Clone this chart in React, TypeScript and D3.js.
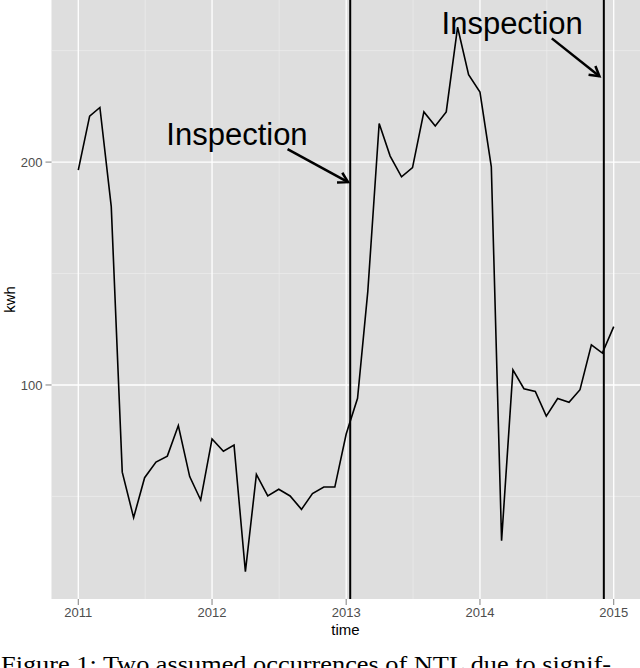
import React from "react";
import * as d3 from "d3";

const startYear = 2011;
const startMonth = 0;
const kwhValues = [
  196.4, 220.6, 224.5, 180, 60.9, 40.5, 58.4, 65.4, 68.1, 81.8, 58.9, 48.4,
  75.8, 70.3, 73, 16.2, 59.9, 50.2, 53.2, 50.2, 44.2, 51.3, 54.2, 54.2,
  78, 94, 142, 217.3, 202.7, 193.4, 197.5, 222.5, 216.2, 222.5, 260.5, 239.2,
  231.4, 197.9, 30.1, 106.8, 98.3, 97.1, 86, 93.9, 92.2, 97.9, 118, 114.3, 126.2,
];
const yMajorTicks = [100, 200];
const yMinorTicks = [50, 150, 250];
const xTickYears = [2011, 2012, 2013, 2014, 2015];
const inspectionDates = [new Date(2013, 0, 12), new Date(2014, 11, 5)];
const annotationLabels = ["Inspection", "Inspection"];
const captionText = "Figure 1: Two assumed occurrences of NTL due to signif-";

const W = 640;
const H = 668;
const panel = { left: 51.5, right: 640.5, top: 0, bottom: 599 };

export default function App() {
  const data = kwhValues.map((v, i) => ({
    date: new Date(startYear, startMonth + i, 1),
    value: v,
  }));
  const [d0, d1] = d3.extent(data, (d) => d.date.getTime()) as [number, number];
  const xSpan = d1 - d0;
  const x = d3
    .scaleTime()
    .domain([new Date(d0 - 0.05 * xSpan), new Date(d1 + 0.05 * xSpan)])
    .range([panel.left, panel.right]);
  const [vMin, vMax] = d3.extent(kwhValues) as [number, number];
  const vSpan = vMax - vMin;
  const y = d3
    .scaleLinear()
    .domain([vMin - 0.05 * vSpan, vMax + 0.05 * vSpan])
    .range([panel.bottom, panel.top]);

  const line = d3
    .line<{ date: Date; value: number }>()
    .x((d) => x(d.date))
    .y((d) => y(d.value));

  const xMajor = xTickYears.map((yr) => new Date(yr, 0, 1));
  const xMinor = xTickYears.slice(0, -1).map(
    (yr) => new Date((new Date(yr, 0, 1).getTime() + new Date(yr + 1, 0, 1).getTime()) / 2)
  );

  // annotation placement (data coordinates)
  const annotations = [
    { label: annotationLabels[0], tx: new Date(2012, 2, 9), tv: 207.5, from: [new Date(2012, 6, 25), 205.8], to: [new Date(2013, 0, 6), 191] },
    { label: annotationLabels[1], tx: new Date(2014, 2, 30), tv: 257.5, from: [new Date(2014, 6, 16), 255.5], to: [new Date(2014, 10, 23), 238.5] },
  ];

  const arrowHead = (x1: number, y1: number, x2: number, y2: number) => {
    const ang = Math.atan2(y2 - y1, x2 - x1);
    const len = 11;
    const spread = Math.PI / 6;
    const a1 = ang + Math.PI - spread;
    const a2 = ang + Math.PI + spread;
    return `M${x2 + len * Math.cos(a1)},${y2 + len * Math.sin(a1)}L${x2},${y2}L${x2 + len * Math.cos(a2)},${y2 + len * Math.sin(a2)}`;
  };

  return (
    <svg
      width={W}
      height={H}
      style={{ position: "absolute", left: 0, top: 0, background: "#fff" }}
      fontFamily="'Liberation Sans', Arial, sans-serif"
    >
      <rect x={panel.left} y={panel.top} width={panel.right - panel.left} height={panel.bottom - panel.top} fill="#dedede" />
      {yMinorTicks.map((t) => (
        <line key={"ym" + t} x1={panel.left} x2={panel.right} y1={y(t)} y2={y(t)} stroke="#f0f0f0" strokeWidth={0.6} />
      ))}
      {xMinor.map((d, i) => (
        <line key={"xm" + i} x1={x(d)} x2={x(d)} y1={panel.top} y2={panel.bottom} stroke="#f0f0f0" strokeWidth={0.6} />
      ))}
      {yMajorTicks.map((t) => (
        <line key={"yM" + t} x1={panel.left} x2={panel.right} y1={y(t)} y2={y(t)} stroke="#ffffff" strokeWidth={1.3} />
      ))}
      {xMajor.map((d, i) => (
        <line key={"xM" + i} x1={x(d)} x2={x(d)} y1={panel.top} y2={panel.bottom} stroke="#ffffff" strokeWidth={1.3} />
      ))}

      <path d={line(data) || ""} fill="none" stroke="#000" strokeWidth={1.6} strokeLinejoin="miter" />

      {inspectionDates.map((d, i) => (
        <line key={"insp" + i} x1={x(d)} x2={x(d)} y1={panel.top} y2={panel.bottom} stroke="#000" strokeWidth={2} />
      ))}

      {annotations.map((a, i) => {
        const x1 = x(a.from[0] as Date);
        const y1 = y(a.from[1] as number);
        const x2 = x(a.to[0] as Date);
        const y2 = y(a.to[1] as number);
        return (
          <g key={"ann" + i}>
            <text x={x(a.tx)} y={y(a.tv)} textAnchor="middle" fontSize={31} fill="#000">
              {a.label}
            </text>
            <line x1={x1} y1={y1} x2={x2} y2={y2} stroke="#000" strokeWidth={2.5} />
            <path d={arrowHead(x1, y1, x2, y2)} fill="none" stroke="#000" strokeWidth={2.5} />
          </g>
        );
      })}

      {/* y axis */}
      {yMajorTicks.map((t) => (
        <g key={"yt" + t}>
          <line x1={panel.left - 6} x2={panel.left} y1={y(t)} y2={y(t)} stroke="#7f7f7f" strokeWidth={1} />
          <text x={panel.left - 9} y={y(t)} dy="0.35em" textAnchor="end" fontSize={13} fill="#4d4d4d">
            {t}
          </text>
        </g>
      ))}
      {/* x axis */}
      {xMajor.map((d, i) => (
        <g key={"xt" + i}>
          <line x1={x(d)} x2={x(d)} y1={panel.bottom} y2={panel.bottom + 6} stroke="#7f7f7f" strokeWidth={1} />
          <text x={x(d)} y={panel.bottom + 18} textAnchor="middle" fontSize={13} fill="#4d4d4d">
            {d3.timeFormat("%Y")(d)}
          </text>
        </g>
      ))}
      <text x={(panel.left + panel.right) / 2 - 0.5} y={635} textAnchor="middle" fontSize={15} fill="#000">
        time
      </text>
      <text transform={`translate(15,${panel.bottom / 2}) rotate(-90)`} textAnchor="middle" fontSize={15} fill="#000">
        kwh
      </text>

      <text x={1} y={672} fontSize={24} fontFamily="'Liberation Serif', 'DejaVu Serif', serif" fill="#000" textLength={610} lengthAdjust="spacingAndGlyphs">
        {captionText}
      </text>
    </svg>
  );
}
